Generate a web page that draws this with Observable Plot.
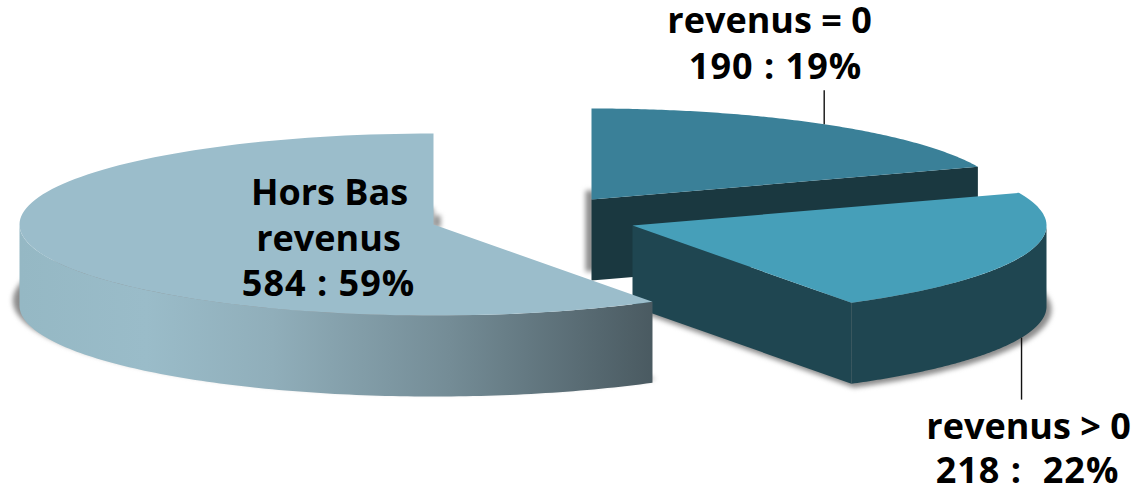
<!DOCTYPE html>
<html>
<head>
<meta charset="utf-8">
<script src="https://cdn.jsdelivr.net/npm/d3@7"></script>
<script src="https://cdn.jsdelivr.net/npm/@observablehq/plot@0.6"></script>
<style>html,body{margin:0;padding:0;background:#fff}svg{display:block}</style>
</head>
<body>
<div id="chart"></div>
<script>
// Data, in clockwise order from twelve o'clock
const categories = ["revenus = 0", "revenus > 0", "Hors Bas revenus"];
const counts = [190, 218, 584];

// Pie geometry (an exploded, tilted pie)
const rx = 414, ry = 91, depth = 81;
const centers = [[591, 199], [632, 225], [433, 224]];
const topColors = ["#3a8098", "#469fb9", "#9bbdcb"];
const sideColors = ["#1a3840", "#1f4651", "url(#sideGradient)"];
const leaderAngles = [34.2, 110];

const total = d3.sum(counts);
const cumulative = d3.cumsum(counts);
const startAngle = i => (i ? cumulative[i - 1] : 0) / total * 360;
const endAngle = i => cumulative[i] / total * 360;
const rad = a => a * Math.PI / 180;

const pt = (i, a, z = 0, k = 1, dx = 0, dy = 0) => ({
  x: centers[i][0] + dx + k * rx * Math.sin(rad(a)),
  y: centers[i][1] + dy + z + k * ry * -Math.cos(rad(a))
});
const arc = (i, a0, a1, z = 0, k = 1, dx = 0, dy = 0) =>
  d3.range(0, 121).map(t => pt(i, a0 + (a1 - a0) * t / 120, z, k, dx, dy));
const apex = (i, z = 0, dx = 0, dy = 0) => ({x: centers[i][0] + dx, y: centers[i][1] + z + dy});
const sector = (i, z = 0, k = 1, dx = 0, dy = 0) =>
  [apex(i, z, dx, dy), ...arc(i, startAngle(i), endAngle(i), z, k, dx, dy)];
const wall = (i, a0, a1) => [...arc(i, a0, a1), ...arc(i, a1, a0, depth)];
const radialWall = (i, a) => [apex(i), pt(i, a), pt(i, a, depth), apex(i, depth)];
const poly = (pts, fill, extra = {}) =>
  Plot.line(pts, {x: "x", y: "y", fill, stroke: "none", curve: "linear", ...extra});

// Label table
const labelLines = [
  {text: "revenus = 0", x: 769, y: 21},
  {text: "190 : 19%", x: 775, y: 67},
  {text: "Hors Bas", x: 329, y: 193},
  {text: "revenus", x: 328, y: 239},
  {text: "584 : 59%", x: 328, y: 284},
  {text: "revenus > 0", x: 1028, y: 427},
  {text: "218 :  22%", x: 1027, y: 471}
];

const shadow = {imageFilter: "blur(2.5px)"};
const shadowColor = "#8c8c8c";

const plot = Plot.plot({
  width: 1134, height: 485,
  margin: 0,
  x: {domain: [0, 1134], range: [0, 1134], axis: null},
  y: {domain: [0, 485], range: [0, 485], axis: null},
  marks: [
    // soft shadows
    poly(sector(2, depth - 5, 1.016, 0, 0), shadowColor, shadow),
    poly(sector(1, depth, 1.012, 0, 3), shadowColor, shadow),
    poly([apex(0, -9, -6), apex(0, -9, 3), apex(0, 72, 3), apex(0, 72, -6)], shadowColor, shadow),
    poly([apex(2, -9, 0), apex(2, -9, 7), apex(2, 3, 7), apex(2, 3, 0)], shadowColor, shadow),
    // revenus = 0
    poly(radialWall(0, endAngle(0)), sideColors[0]),
    poly(sector(0), topColors[0]),
    // revenus > 0
    poly(wall(1, 90, endAngle(1)), sideColors[1]),
    poly(radialWall(1, endAngle(1)), sideColors[1]),
    poly(sector(1), topColors[1]),
    // Hors Bas revenus
    poly(wall(2, startAngle(2), 270), sideColors[2]),
    poly(sector(2), topColors[2]),
    // leader lines
    Plot.link([0], {
      x1: () => pt(0, leaderAngles[0]).x, x2: () => pt(0, leaderAngles[0]).x,
      y1: () => pt(0, leaderAngles[0]).y, y2: () => pt(0, leaderAngles[0]).y - 34,
      stroke: "#111", strokeWidth: 1.4
    }),
    Plot.link([0], {
      x1: () => pt(1, leaderAngles[1], depth).x, x2: () => pt(1, leaderAngles[1], depth).x,
      y1: () => pt(1, leaderAngles[1], depth).y, y2: () => pt(1, leaderAngles[1], depth).y + 62,
      stroke: "#111", strokeWidth: 1.4
    }),
    // labels
    Plot.text(labelLines, {
      x: "x", y: "y", text: "text",
      fontFamily: "'Open Sans', sans-serif", fontWeight: 700, fontSize: 36,
      fill: "#000", textAnchor: "middle", lineAnchor: "middle"
    })
  ]
});

// Horizontal gradient of the big slice's outer wall
const defs = d3.select(plot).insert("defs", ":first-child");
const grad = defs.append("linearGradient").attr("id", "sideGradient")
  .attr("x1", 0).attr("x2", 1).attr("y1", 0).attr("y2", 0);
[[0, "#95b8c4"], [0.2, "#9abcc9"], [0.4, "#90aeba"], [0.68, "#748c96"], [1, "#4a5a61"]]
  .forEach(([o, c]) => grad.append("stop").attr("offset", o).attr("stop-color", c));

// The reference's lines with numbers are set a little wider
d3.select(plot).selectAll("text").filter(function () { return this.textContent.includes(":"); })
  .style("letter-spacing", "1px");

document.getElementById("chart").appendChild(plot);
</script>
</body>
</html>
